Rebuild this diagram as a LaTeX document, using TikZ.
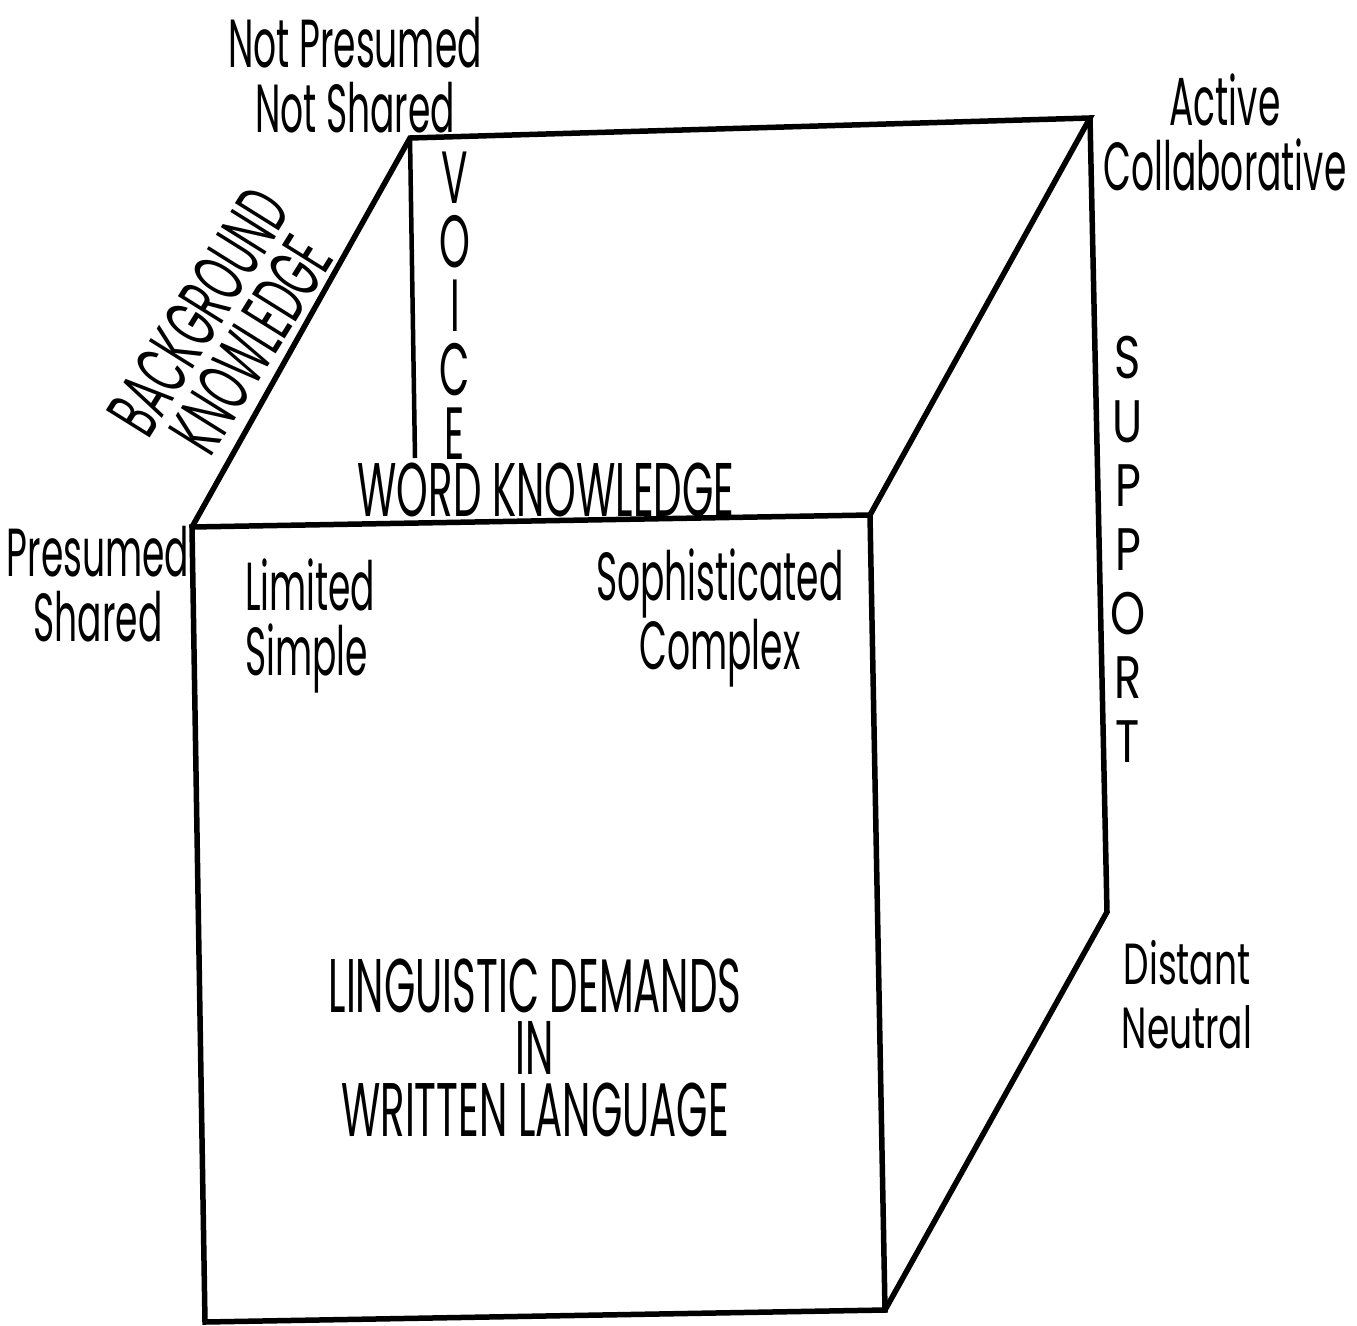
\documentclass[tikz,border=0pt]{standalone}
\usepackage{fontspec}
\setmainfont{Poppins}
\tikzset{
  edge/.style={line width=5.5pt, line join=miter, line cap=round},
  lbl/.style={font=\fontsize{68}{65}\selectfont, xscale=0.53, align=center, inner sep=0pt},
  caps/.style={font=\fontsize{76}{62}\selectfont, xscale=0.53, align=center, inner sep=0pt},
  wide/.style={font=\fontsize{58}{64}\selectfont, xscale=0.62, align=center, inner sep=0pt}
}
\begin{document}
\begin{tikzpicture}[x=1pt, y=-1pt]
    \useasboundingbox (0,0) rectangle (1357,1325);

    % Cube corners
    \coordinate (ftl) at (192,527);
    \coordinate (ftr) at (870,515);
    \coordinate (fbr) at (885,1310);
    \coordinate (fbl) at (205,1322);
    \coordinate (btl) at (410,138);
    \coordinate (btr) at (1090,118);
    \coordinate (bbr) at (1107,912);
    \coordinate (vend) at (415,458);

    % Cube edges
    \draw[edge] (ftl) -- (ftr) -- (fbr) -- (fbl) -- cycle;
    \draw[edge] (ftl) -- (btl) -- (btr) -- (ftr);
    \draw[edge] (btr) -- (bbr) -- (fbr);
    \draw[line width=4.5pt] (btl) -- (vend);

    % Corner labels
    \node[lbl] (notpres) at (355,75) {Not Presumed\\Not Shared};
    \node[lbl] (active) at (1225,132) {Active\\Collaborative};
    \node[lbl] (pres) at (98,584) {Presumed\\Shared};
    \node[lbl, anchor=west, align=left] (limited) at (245,626) {Limited\\Simple};
    \node[lbl] (soph) at (720,618) {Sophisticated\\Complex};
    \node[wide] (distant) at (1187,995) {Distant\\Neutral};

    % Axis labels
    \node[rotate=58, caps, font=\fontsize{74}{62}\selectfont] (bgk) at (225,328) {BACKGROUND\\KNOWLEDGE};
    \node[caps, font=\fontsize{74}{64}\selectfont] (voice) at (455,306) {V\\O\\I\\C\\E};
    \node[caps] (wordk) at (546,490) {WORD KNOWLEDGE};
    \node[wide, font=\fontsize{60}{64}\selectfont, xscale=1.2] (support) at (1128,549) {S\\U\\P\\P\\O\\R\\T};

    % Title
    \node[caps] (title) at (535,1048) {LINGUISTIC DEMANDS\\IN\\WRITTEN LANGUAGE};
\end{tikzpicture}
\end{document}
